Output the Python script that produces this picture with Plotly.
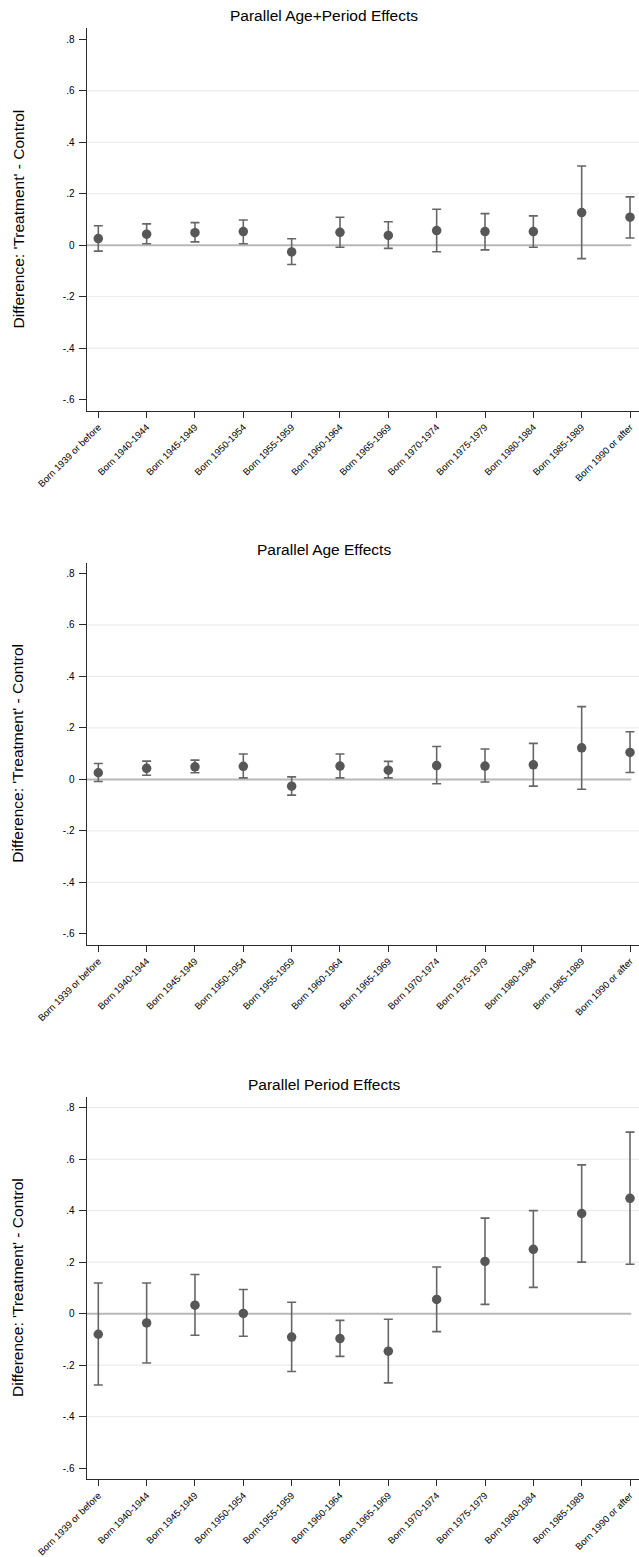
import plotly.graph_objects as go

# Birth cohorts on the x axis
cohorts = [
    "Born 1939 or before", "Born 1940-1944", "Born 1945-1949", "Born 1950-1954",
    "Born 1955-1959", "Born 1960-1964", "Born 1965-1969", "Born 1970-1974",
    "Born 1975-1979", "Born 1980-1984", "Born 1985-1989", "Born 1990 or after",
]

# Parallel Age+Period Effects: point estimates and confidence bounds
age_period_est = [0.026, 0.043, 0.049, 0.053, -0.026, 0.050, 0.038, 0.057, 0.053, 0.053, 0.127, 0.109]
age_period_lo = [-0.023, 0.006, 0.013, 0.006, -0.075, -0.008, -0.012, -0.025, -0.018, -0.008, -0.052, 0.028]
age_period_hi = [0.076, 0.083, 0.088, 0.098, 0.025, 0.109, 0.091, 0.140, 0.123, 0.114, 0.308, 0.188]

# Parallel Age Effects
age_est = [0.026, 0.043, 0.049, 0.051, -0.026, 0.052, 0.036, 0.054, 0.052, 0.057, 0.123, 0.105]
age_lo = [-0.008, 0.016, 0.026, 0.006, -0.061, 0.006, 0.006, -0.017, -0.010, -0.026, -0.038, 0.027]
age_hi = [0.062, 0.071, 0.075, 0.099, 0.010, 0.099, 0.070, 0.128, 0.118, 0.140, 0.283, 0.185]

# Parallel Period Effects
period_est = [-0.080, -0.036, 0.033, 0.001, -0.091, -0.097, -0.146, 0.055, 0.203, 0.250, 0.389, 0.448]
period_lo = [-0.277, -0.192, -0.084, -0.088, -0.225, -0.166, -0.269, -0.070, 0.036, 0.102, 0.200, 0.192]
period_hi = [0.119, 0.119, 0.152, 0.094, 0.044, -0.026, -0.022, 0.181, 0.371, 0.400, 0.578, 0.705]

panel_titles = ["Parallel Age+Period Effects", "Parallel Age Effects", "Parallel Period Effects"]
y_ticks = [0.8, 0.6, 0.4, 0.2, 0.0, -0.2, -0.4, -0.6]
y_ticktext = [".8", ".6", ".4", ".2", "0", "-.2", "-.4", "-.6"]
grid_levels = [
    [0.6, 0.4, 0.2, -0.2, -0.4],
    [0.6, 0.4, 0.2, -0.2, -0.4],
    [0.8, 0.6, 0.4, 0.2, -0.2, -0.4],
]
y_axis_label = "Difference: 'Treatment' - Control"

panels = [
    (age_period_est, age_period_lo, age_period_hi),
    (age_est, age_lo, age_hi),
    (period_est, period_lo, period_hi),
]

W, H = 639, 1557
FONT = "Liberation Sans, Arial, Helvetica, sans-serif"
DOT = "#575757"
BAR = "#666666"
GRID = "#e8e8e8"
ZERO = "#b8b8b8"
AXIS = "#2a2a2a"

# vertical pixel extents (top, bottom) of each plotting region
plot_px = [(28.3, 410.7), (562.5, 944.9), (1096.7, 1479.1)]
x_left_px = 86.7
y_range = [-0.6427, 0.8427]
x_range = [-0.24, 11.186]

fig = go.Figure()
layout = dict(
    width=W, height=H,
    margin=dict(l=0, r=0, t=0, b=0, autoexpand=False),
    paper_bgcolor="white", plot_bgcolor="white",
    showlegend=False,
    font=dict(family=FONT, color="black"),
)
shapes = []
annotations = []

for k, ((est, lo, hi), title, grids, (top, bot)) in enumerate(zip(panels, panel_titles, grid_levels, plot_px)):
    n = k + 1
    xa = "x" if n == 1 else f"x{n}"
    ya = "y" if n == 1 else f"y{n}"
    up = [h - e for h, e in zip(hi, est)]
    down = [e - l for e, l in zip(est, lo)]
    fig.add_trace(go.Scatter(
        x=cohorts, y=est, mode="markers", xaxis=xa, yaxis=ya,
        marker=dict(color=DOT, size=9.5, line=dict(width=0)),
        error_y=dict(type="data", symmetric=False, array=up, arrayminus=down,
                     color=BAR, thickness=1.6, width=4.5),
        cliponaxis=False,
    ))

    dom_y = [1 - bot / H, 1 - top / H]
    layout[f"xaxis{'' if n == 1 else n}"] = dict(
        domain=[x_left_px / W, 1.0], anchor=ya, type="category",
        categoryorder="array", categoryarray=cohorts,
        range=x_range, showgrid=False, zeroline=False, automargin=False,
        showline=True, linecolor=AXIS, linewidth=1.4,
        ticks="outside", ticklen=6, tickwidth=1.2, tickcolor=AXIS,
        tickangle=-45, tickfont=dict(size=9.5, family=FONT, color="black"),
        ticklabelstandoff=0,
    )
    layout[f"yaxis{'' if n == 1 else n}"] = dict(
        domain=dom_y, anchor=xa, range=y_range,
        tickvals=y_ticks, ticktext=y_ticktext,
        showgrid=False, zeroline=False, automargin=False,
        showline=True, linecolor=AXIS, linewidth=1.4,
        ticks="outside", ticklen=7, tickwidth=1.2, tickcolor=AXIS,
        tickfont=dict(size=10, family=FONT, color="black"),
        ticklabelstandoff=2,
    )

    # light horizontal gridlines
    for g in grids:
        shapes.append(dict(type="line", xref=f"{xa} domain", yref=ya,
                           x0=0, x1=1, y0=g, y1=g, layer="below",
                           line=dict(color=GRID, width=1)))
    # reference line at zero difference
    shapes.append(dict(type="line", xref=f"{xa} domain", yref=ya,
                       x0=0, x1=0.986, y0=0, y1=0, layer="below",
                       line=dict(color=ZERO, width=2)))

    annotations.append(dict(
        text=title, xref="paper", yref="paper",
        x=324 / W, y=1 - (top - 12.5) / H, xanchor="center", yanchor="middle",
        showarrow=False, font=dict(size=15.5, family=FONT, color="black"),
    ))
    annotations.append(dict(
        text=y_axis_label, xref="paper", yref="paper", textangle=-90,
        x=18 / W, y=1 - ((top + bot) / 2) / H, xanchor="center", yanchor="middle",
        showarrow=False, font=dict(size=15.5, family=FONT, color="black"),
    ))

layout["shapes"] = shapes
layout["annotations"] = annotations
fig.update_layout(**layout)
fig.write_html("out.html")
